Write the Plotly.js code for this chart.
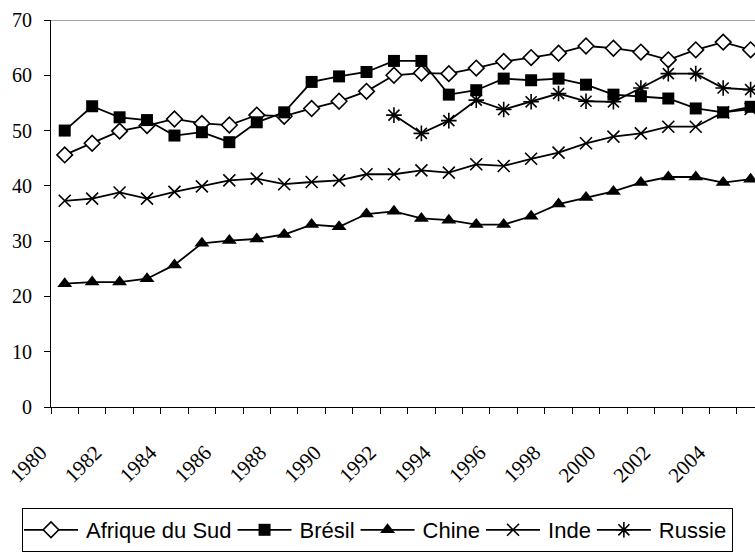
<!DOCTYPE html>
<html>
<head>
<meta charset="utf-8">
<script src="https://cdn.plot.ly/plotly-3.0.1.min.js"></script>
<style>
html,body{margin:0;padding:0;background:#fff;}
#chart{width:755px;height:552px;}
</style>
</head>
<body>
<div id="chart"></div>
<script>
const years = [1980,1981,1982,1983,1984,1985,1986,1987,1988,1989,1990,1991,1992,1993,1994,1995,1996,1997,1998,1999,2000,2001,2002,2003,2004,2005];
const afriqueDuSud = [45.6,47.7,49.9,50.9,52.1,51.3,51.0,52.8,52.6,54.0,55.3,57.1,60.0,60.4,60.3,61.3,62.5,63.2,64.0,65.3,64.9,64.2,62.8,64.6,66.0,64.6];
const bresil = [50.0,54.4,52.4,51.9,49.1,49.7,47.9,51.5,53.3,58.8,59.8,60.6,62.6,62.6,56.5,57.3,59.4,59.1,59.4,58.3,56.5,56.2,55.8,54.0,53.3,54.3];
const chine = [22.3,22.6,22.6,23.2,25.7,29.6,30.1,30.4,31.2,33.0,32.6,34.9,35.4,34.1,33.8,33.0,33.0,34.5,36.7,37.9,39.0,40.6,41.6,41.6,40.6,41.2];
const inde = [37.3,37.7,38.8,37.7,38.9,39.9,41.0,41.3,40.3,40.7,41.0,42.1,42.1,42.8,42.4,43.9,43.6,44.9,46.0,47.7,48.9,49.5,50.7,50.7,53.3,53.9];
const russie = [null,null,null,null,null,null,null,null,null,null,null,null,52.8,49.5,51.8,55.5,53.8,55.2,56.7,55.3,55.2,57.7,60.3,60.3,57.7,57.4];
const labelYears = [1980,1982,1984,1986,1988,1990,1992,1994,1996,1998,2000,2002,2004];
const seriesNames = ['Afrique du Sud','Brésil','Chine','Inde','Russie'];

const serif = 'Liberation Serif';
const sans = 'Liberation Sans';

const lineStyle = {color:'#000', width:1.8};
function tr(name, y, marker){
  return {x: years, y: y, name: name, type:'scatter', mode:'lines+markers',
          line: lineStyle, marker: marker, connectgaps:false, hoverinfo:'skip'};
}
const data = [
  tr(seriesNames[0], afriqueDuSud, {symbol:'diamond', size:12, color:'#fff', line:{color:'#000', width:1.6}}),
  tr(seriesNames[1], bresil, {symbol:'square', size:12, color:'#000', line:{color:'#000', width:0}}),
  tr(seriesNames[2], chine, {symbol:'triangle-up', size:13, color:'#000', line:{color:'#000', width:0}}),
  tr(seriesNames[3], inde, {symbol:'x-thin-open', size:12, color:'#000', line:{color:'#000', width:1.6}}),
  tr(seriesNames[4], russie, {symbol:'asterisk-open', size:13, color:'#000', line:{color:'#000', width:1.6}})
];

const layout = {
  width:755, height:552,
  margin:{l:51, r:0, t:20, b:142, pad:0},
  paper_bgcolor:'#fff', plot_bgcolor:'#fff',
  font:{family:serif, size:20, color:'#000'},
  showlegend:true,
  xaxis:{
    range:[1979.5, 2005.16], showgrid:false, zeroline:false,
    showline:true, linecolor:'#000', linewidth:1,
    tickmode:'array', tickvals: labelYears, ticktext: labelYears.map(String),
    ticks:'', tickangle:-45, ticklabelstandoff:24, ticklabelshift:-24,
    tickfont:{family:serif, size:21, color:'#000'},
    minor:{tickmode:'array', tickvals: years.map(v=>v-0.5), ticks:'outside', ticklen:6, tickcolor:'#000', tickwidth:1, showgrid:false}
  },
  yaxis:{
    range:[0,70], dtick:10, showgrid:false, zeroline:false,
    showline:true, linecolor:'#000', linewidth:1,
    ticks:'outside', ticklen:6, tickcolor:'#000',
    tickfont:{family:serif, size:20, color:'#000'},
    ticklabelstandoff: 8
  },
  shapes:[{type:'line', xref:'paper', yref:'y', x0:0, x1:1, y0:70, y1:70, line:{color:'#888', width:1.5}}],
  legend:{
    orientation:'h', x:-0.0412, xanchor:'left', y:-0.2615, yanchor:'top',
    bordercolor:'#000', borderwidth:1, bgcolor:'#fff',
    font:{family:sans, size:22, color:'#000'},
    itemwidth:53, traceorder:'normal'
  }
};
Plotly.newPlot('chart', data, layout, {displayModeBar:false, staticPlot:true}).then(function(gd){
  // lengthen legend sample lines (Excel-style legend keys)
  gd.querySelectorAll('.legend .traces').forEach(function(g){
    g.querySelectorAll('.legendlines path').forEach(function(p){ p.setAttribute('d','M1,0h54'); });
    g.querySelectorAll('.legendpoints path').forEach(function(p){ p.setAttribute('transform','translate(28,0)'); });
  });
});
</script>
</body>
</html>
